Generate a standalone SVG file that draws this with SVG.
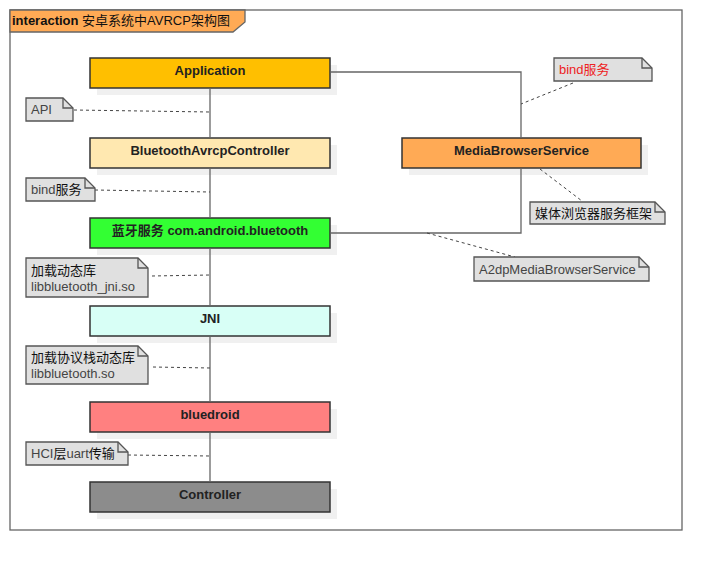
<svg xmlns="http://www.w3.org/2000/svg" width="722" height="570" viewBox="0 0 722 570">
<style>
text{font-family:"Liberation Sans","Noto Sans CJK SC",sans-serif;}
.node rect.b{stroke:#333;stroke-width:1.5;}
.shadow{fill:#f0f0f0;}
.nt{font-size:13px;font-weight:bold;fill:#222;text-anchor:middle;}
.note path.body{fill:#e0e0e0;stroke:#555;stroke-width:1.3;}
.note path.ear{fill:none;stroke:#555;stroke-width:1.3;}
.lt{font-size:13px;fill:#444;}
.cn{font-size:13px;fill:#111;}
.dash{stroke:#444;stroke-width:1;stroke-dasharray:3,3;fill:none;}
.line{stroke:#666;stroke-width:1.3;fill:none;}
</style>
<rect width="722" height="570" fill="#fff"/>
<g id="frame">
<rect x="10" y="10" width="672" height="520" fill="none" stroke="#666" stroke-width="1.3"/>
<path d="M10,10 H245 V22 L233,32 H10 Z" fill="#ffaa55" stroke="#666" stroke-width="1.3"/>
<text x="12" y="25" font-size="13" fill="#111"><tspan font-weight="bold">interaction</tspan> 安卓系统中AVRCP架构图</text>
</g>
<g id="n-application" class="node">
<rect class="shadow" x="97" y="65" width="240" height="30"/>
<rect class="b" x="90" y="58" width="240" height="30" fill="#ffbf00"/>
<text class="nt" x="210" y="75">Application</text>
</g>
<g id="n-avrcp" class="node">
<rect class="shadow" x="97" y="145" width="240" height="30"/>
<rect class="b" x="90" y="138" width="240" height="30" fill="#ffe8b0"/>
<text class="nt" x="210" y="155">BluetoothAvrcpController</text>
</g>
<g id="n-bt" class="node">
<rect class="shadow" x="97" y="225" width="240" height="30"/>
<rect class="b" x="90" y="218" width="240" height="30" fill="#33ff33"/>
<text class="nt" x="210" y="235">蓝牙服务 com.android.bluetooth</text>
</g>
<g id="n-jni" class="node">
<rect class="shadow" x="97" y="313" width="240" height="30"/>
<rect class="b" x="90" y="306" width="240" height="30" fill="#d8fff6"/>
<text class="nt" x="210" y="323">JNI</text>
</g>
<g id="n-bluedroid" class="node">
<rect class="shadow" x="97" y="409" width="240" height="30"/>
<rect class="b" x="90" y="402" width="240" height="30" fill="#ff8080"/>
<text class="nt" x="210" y="419">bluedroid</text>
</g>
<g id="n-controller" class="node">
<rect class="shadow" x="97" y="489" width="240" height="30"/>
<rect class="b" x="90" y="482" width="240" height="30" fill="#8c8c8c"/>
<text class="nt" x="210" y="499">Controller</text>
</g>
<g id="n-mbs" class="node">
<rect class="shadow" x="409" y="145" width="239" height="30"/>
<rect class="b" x="402" y="138" width="239" height="30" fill="#ffaa55"/>
<text class="nt" x="521.5" y="155">MediaBrowserService</text>
</g>
<g id="connectors">
<line class="line" x1="210" y1="89" x2="210" y2="137"/>
<line class="line" x1="210" y1="169" x2="210" y2="217"/>
<line class="line" x1="210" y1="249" x2="210" y2="305"/>
<line class="line" x1="210" y1="337" x2="210" y2="401"/>
<line class="line" x1="210" y1="433" x2="210" y2="481"/>
<polyline class="line" points="331,72 521,72 521,137"/>
<polyline class="line" points="521,169 521,233 331,233"/>
<line class="dash" x1="74" y1="110" x2="210" y2="112"/>
<line class="dash" x1="95" y1="190" x2="210" y2="192"/>
<line class="dash" x1="152" y1="276" x2="210" y2="275"/>
<line class="dash" x1="153" y1="367" x2="210" y2="368"/>
<line class="dash" x1="128" y1="455" x2="210" y2="456"/>
<line class="dash" x1="573" y1="83" x2="521" y2="104"/>
<line class="dash" x1="540" y1="169" x2="582" y2="201"/>
<line class="dash" x1="427" y1="233" x2="515" y2="257"/>
</g>
<g id="note-api" class="note">
<path class="body" d="M26,98 H63 L73,108 V121 H26 Z"/><path class="ear" d="M63,98 V108 H73"/>
<text class="lt" x="31" y="114">API</text>
</g>
<g id="note-bind1" class="note">
<path class="body" d="M26,178 H85 L95,188 V201 H26 Z"/><path class="ear" d="M85,178 V188 H95"/>
<text class="lt" x="31" y="194">bind<tspan fill="#111">服务</tspan></text>
</g>
<g id="note-jni" class="note">
<path class="body" d="M26,258 H138 L148,268 V297 H26 Z"/><path class="ear" d="M138,258 V268 H148"/>
<text class="cn" x="31" y="275">加载动态库</text>
<text class="lt" x="31" y="291">libbluetooth_jni.so</text>
</g>
<g id="note-so" class="note">
<path class="body" d="M26,346 H138 L148,356 V384 H26 Z"/><path class="ear" d="M138,346 V356 H148"/>
<text class="cn" x="31" y="362">加载协议栈动态库</text>
<text class="lt" x="31" y="378">libbluetooth.so</text>
</g>
<g id="note-hci" class="note">
<path class="body" d="M26,442 H118 L128,452 V465 H26 Z"/><path class="ear" d="M118,442 V452 H128"/>
<text class="lt" x="31" y="458">HCI<tspan fill="#111">层</tspan>uart<tspan fill="#111">传输</tspan></text>
</g>
<g id="note-bind2" class="note">
<path class="body" d="M554,58 H642 L652,68 V81 H554 Z"/><path class="ear" d="M642,58 V68 H652"/>
<text x="559" y="74" font-size="13" fill="#ee2222">bind服务</text>
</g>
<g id="note-media" class="note">
<path class="body" d="M530,202 H655 L665,212 V224 H530 Z"/><path class="ear" d="M655,202 V212 H665"/>
<text class="cn" x="535" y="218">媒体浏览器服务框架</text>
</g>
<g id="note-a2dp" class="note">
<path class="body" d="M474,257 H639 L649,267 V281 H474 Z"/><path class="ear" d="M639,257 V267 H649"/>
<text class="lt" x="479" y="274">A2dpMediaBrowserService</text>
</g>
</svg>
